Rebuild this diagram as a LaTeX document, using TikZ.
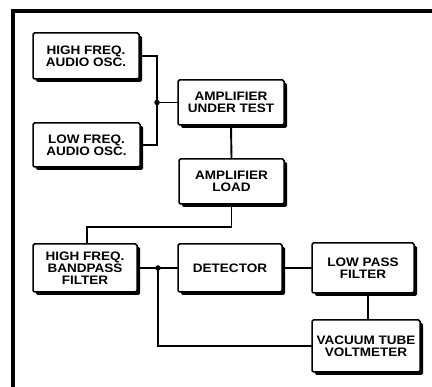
\documentclass[tikz,border=0pt]{standalone}
\usepackage{fontspec}
\setmainfont{Liberation Sans}[FakeStretch=1.1]
\usetikzlibrary{shadows}
\tikzset{
  blk/.style={draw=black, fill=white, line width=1.5pt, rounded corners=1.5pt,
    align=center, inner sep=0pt,
    font=\fontsize{12.3}{12}\selectfont\bfseries,
    drop shadow={shadow xshift=3pt, shadow yshift=-3pt, fill=black, opacity=1}},
  wire/.style={line width=1.9pt, line cap=round},
  jdot/.style={circle, fill=black, inner sep=0pt, minimum size=5.5pt},
  frame/.style={line width=3.5pt}
}
\begin{document}
\begin{tikzpicture}[x=1pt,y=-1pt]
\useasboundingbox (0,0) rectangle (432,387);
\draw[frame] (13,387) -- (13,11) -- (432,11);
% blocks
\node[blk, minimum width=106pt, minimum height=46pt] (hf) at (86,56) {HIGH FREQ.\\AUDIO OSC.};
\node[blk, minimum width=107pt, minimum height=44pt] (lf) at (86.5,145) {LOW FREQ.\\AUDIO OSC.};
\node[blk, minimum width=106pt, minimum height=45pt] (aut) at (231,102.5) {AMPLIFIER\\UNDER TEST};
\node[blk, minimum width=105pt, minimum height=45pt] (load) at (231.5,181.5) {AMPLIFIER\\LOAD};
\node[blk, minimum width=104pt, minimum height=48pt] (bpf) at (85,268) {HIGH FREQ.\\BANDPASS\\FILTER};
\node[blk, minimum width=104pt, minimum height=48pt] (det) at (230,268) {DETECTOR};
\node[blk, minimum width=102pt, minimum height=50pt] (lpf) at (363,268) {LOW PASS\\FILTER};
\node[blk, minimum width=108pt, minimum height=52pt] (vtvm) at (366,346) {VACUUM TUBE\\VOLTMETER};
% junctions
\coordinate (j1) at (157,102.5);
\coordinate (j2) at (158,268);
\coordinate (lb) at (87,227);
\coordinate (lv) at (368,300);
% wires
\draw[wire] (hf.east) -| (j1) |- (lf.east);
\draw[wire] (j1) -- (aut.west);
\draw[wire] (aut.south) -- (load.north);
\draw[wire] (load.south) |- (lb) -- (lb |- bpf.north);
\draw[wire] (bpf.east) -- (j2) -- (det.west);
\draw[wire] (det.east) -- (lpf.west);
\draw[wire] (lv |- lpf.south) -- (lv |- vtvm.north);
\draw[wire] (j2) |- (vtvm.west);
\node[jdot] (d1) at (j1) {};
\node[jdot] (d2) at (j2) {};
\end{tikzpicture}
\end{document}
